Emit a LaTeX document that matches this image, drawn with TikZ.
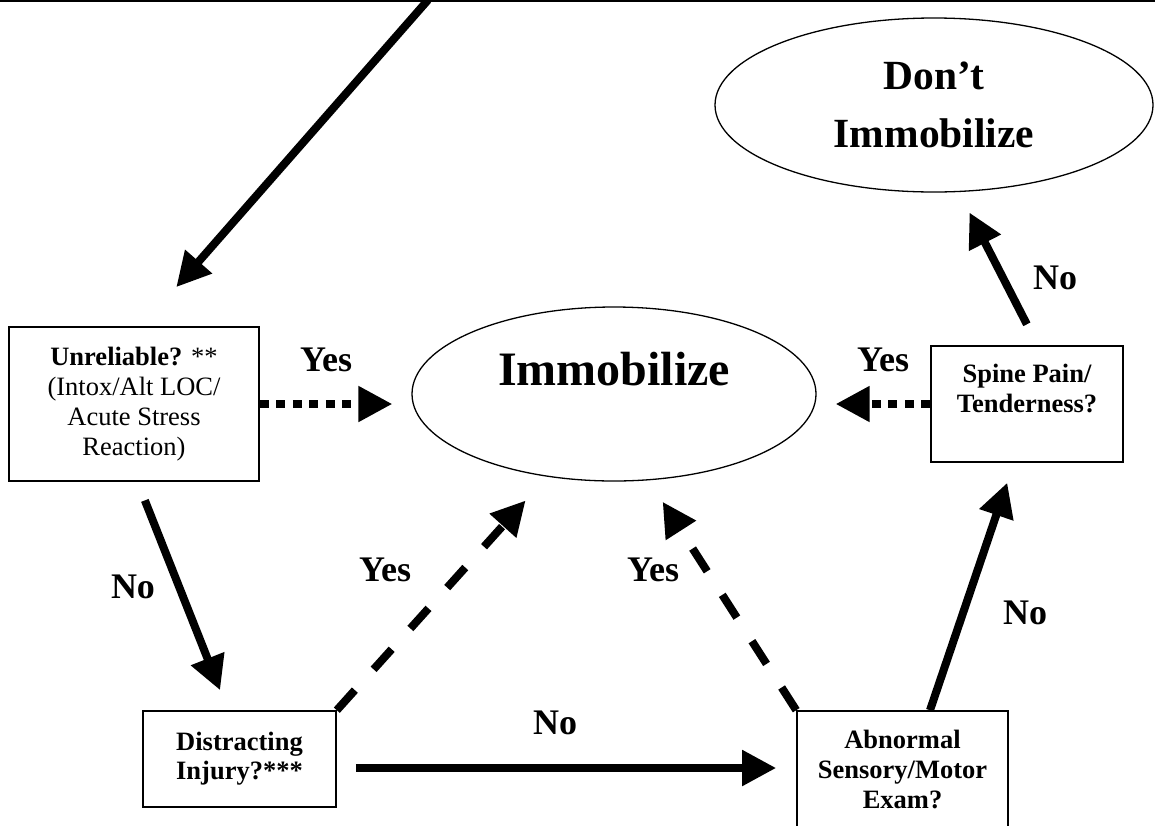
\documentclass[tikz,border=0pt]{standalone}
\usepackage{fontspec}
\setmainfont{Liberation Serif}
\usetikzlibrary{arrows.meta,positioning,shapes.geometric}

\begin{document}
\begin{tikzpicture}[x=1pt, y=-1pt, >={Triangle[length=34pt,width=34pt]},
  qbox/.style={draw, rectangle, line width=1.6pt, align=center, inner sep=0pt,
    font=\fontsize{26.5}{30}\selectfont},
  endnode/.style={draw, ellipse, line width=1.3pt, align=center, inner sep=0pt},
  lbl/.style={font=\fontsize{36}{40}\selectfont\bfseries, inner sep=0pt},
  flow/.style={->, line width=8pt},
  dotflow/.style={flow, dash pattern=on 9pt off 7.5pt},
  dashflow/.style={flow, dash pattern=on 27pt off 28pt}]
  \useasboundingbox (0,0) rectangle (1155,825);

  % top edge of the sheet, the incoming arrow starts there
  \draw[line width=1.5pt] (0,1) -- (1155,1);
  \coordinate (entry) at (428,0);

  % questions
  \node[qbox, minimum width=250pt, minimum height=154pt] (unrel) at (134,404)
    {\textbf{Unreliable?} **\\(Intox/Alt LOC/\\Acute Stress\\Reaction)};
  \node[qbox, minimum width=192pt, minimum height=116pt, font=\fontsize{26.5}{30}\selectfont\bfseries] (spine) at (1027,404)
    {Spine Pain/\\Tenderness?\\[-8pt]\strut};
  \node[qbox, minimum width=193pt, minimum height=96pt, font=\fontsize{26.5}{29}\selectfont\bfseries] (distr) at (239.5,759)
    {Distracting\\Injury?***};
  \node[qbox, minimum width=211pt, minimum height=116pt, font=\fontsize{26.5}{30}\selectfont\bfseries] (abn) at (902.5,769)
    {Abnormal\\Sensory/Motor\\Exam?};

  % outcomes
  \node[endnode, minimum width=404pt, minimum height=174pt, text height=34pt, text depth=52pt,
    font=\fontsize{48}{55}\selectfont\bfseries] (immob) at (614,394) {Immobilize};
  \node[endnode, minimum width=438pt, minimum height=174pt,
    font=\fontsize{41.5}{58}\selectfont\bfseries] (dont) at (934,105) {Don’t\\Immobilize};

  % answers
  \node[lbl] (yesU) at (326,360) {Yes};
  \node[lbl] (yesS) at (883,360) {Yes};
  \node[lbl] (noU) at (133,587) {No};
  \node[lbl] (yesD) at (385,570) {Yes};
  \node[lbl] (yesA) at (653,570) {Yes};
  \node[lbl] (noD) at (555,723) {No};
  \node[lbl] (noA) at (1025,613) {No};
  \node[lbl] (noS) at (1055,278) {No};

  \draw[flow, shorten >=52pt] (entry) -- ([xshift=8pt]unrel.north);
  \draw[dotflow, shorten >=19pt] (unrel.east) -- (unrel.east -| immob.west);
  \draw[dotflow, shorten >=19pt] (spine.west) -- (spine.west -| immob.east);
  \draw[flow, shorten <=20pt, shorten >=21.5pt] ([xshift=3.5pt]unrel.south) -- ([xshift=-11.5pt]distr.north);
  \draw[dashflow, shorten >=32pt] (distr.north east) -- (immob.231);
  \draw[dashflow, shorten >=25.5pt] (abn.north west) -- (immob.292);
  \draw[flow, shorten <=19pt, shorten >=20pt] ([yshift=-9pt]distr.east) -- ([yshift=-9pt]distr.east -| abn.west);
  \draw[flow, shorten >=21pt] ([xshift=27.5pt]abn.north) -- ([xshift=-13pt]spine.south);
  \draw[flow, shorten <=23.5pt, shorten >=23pt] ([xshift=10.6pt]spine.north) -- (dont.286);
\end{tikzpicture}
\end{document}
